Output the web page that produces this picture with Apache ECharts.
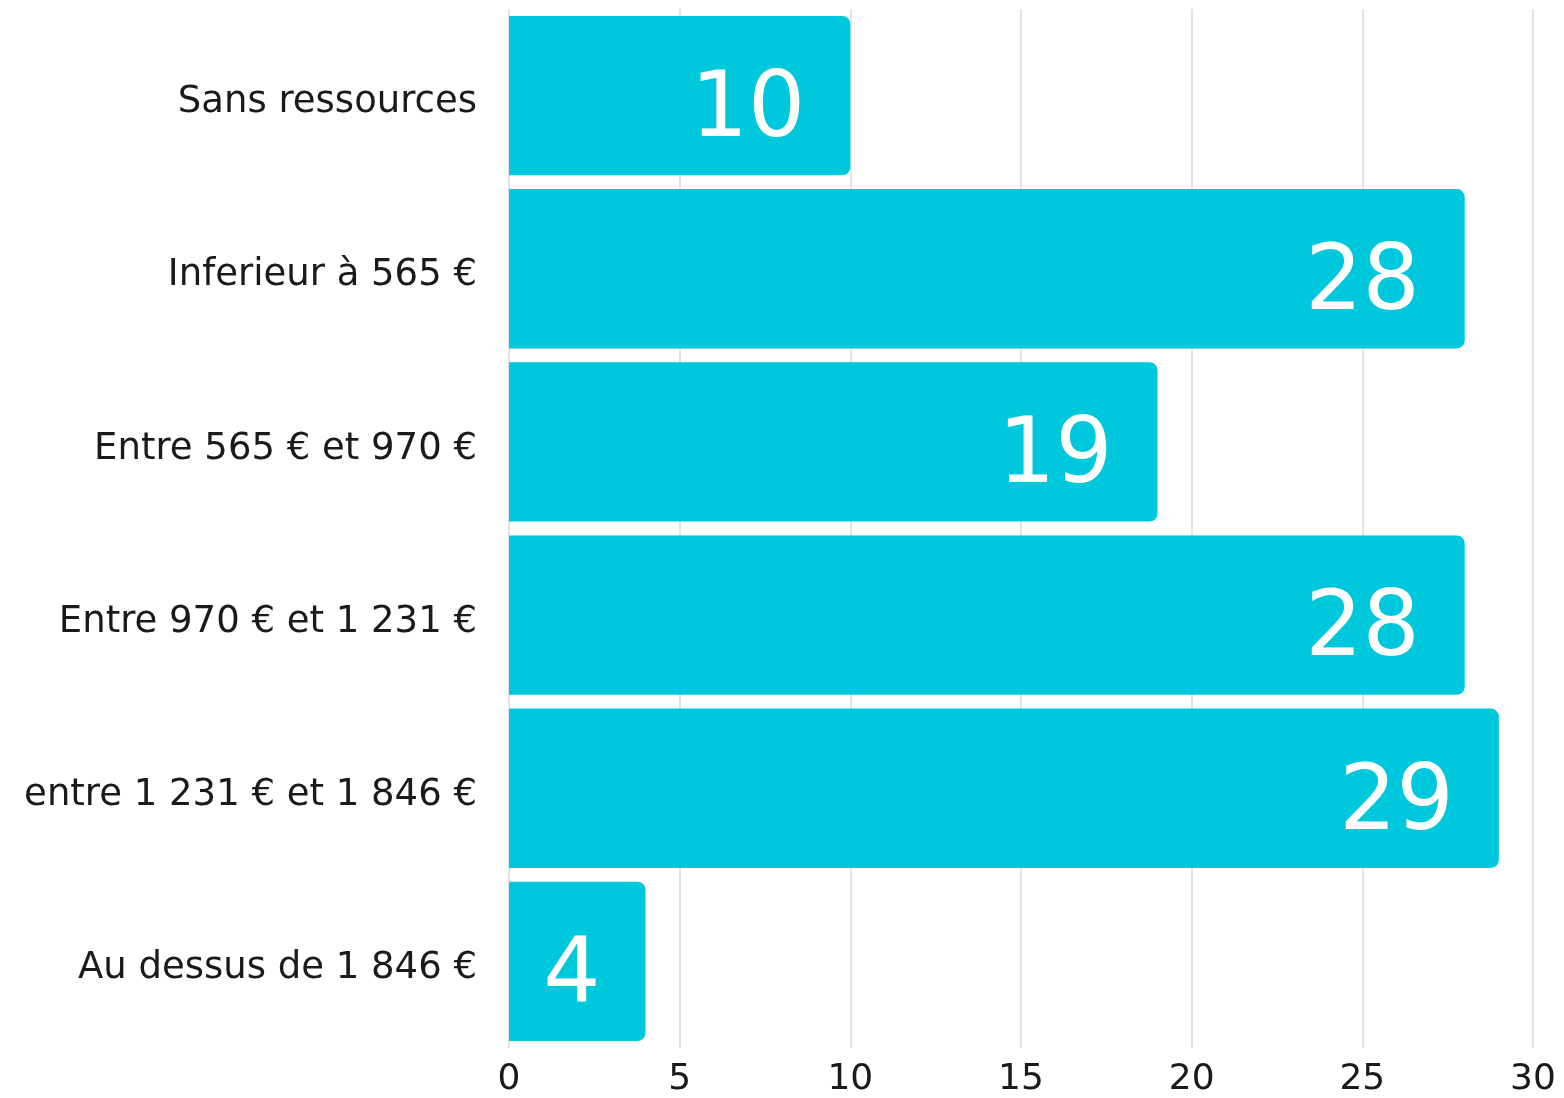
<!DOCTYPE html>
<html><head><meta charset="utf-8">
<script src="https://cdn.jsdelivr.net/npm/echarts@6/dist/echarts.min.js"></script>
<style>html,body{margin:0;padding:0;background:#fff}#c{width:1564px;height:1098px}</style>
</head><body><div id="c"></div>
<script>
const categories = ["Sans ressources","Inferieur à 565 €","Entre 565 € et 970 €","Entre 970 € et 1 231 €","entre 1 231 € et 1 846 €","Au dessus de 1 846 €"];
const values = [10, 28, 19, 28, 29, 4];
const xTicks = [0, 5, 10, 15, 20, 25, 30];

const FONT = 'DejaVu Sans';
const chart = echarts.init(document.getElementById('c'));
chart.setOption({
  animation: false,
  grid: {left: 509, right: 31, top: 9, bottom: 50, containLabel: false},
  xAxis: {
    type: 'value', min: xTicks[0], max: xTicks[xTicks.length-1], interval: 5,
    axisLine: {show: false}, axisTick: {show: false},
    splitLine: {lineStyle: {color: '#e3e3e3', width: 2}},
    axisLabel: {color: '#1a1a1a', fontSize: 36, fontFamily: FONT, margin: 14}
  },
  yAxis: {
    type: 'category', inverse: true, data: categories,
    axisLine: {show: false}, axisTick: {show: false},
    axisLabel: {
      margin: 32,
      formatter: v => '{a|' + v + '}',
      rich: {a: {color: '#1a1a1a', fontSize: 37, fontFamily: FONT, padding: [14, 0, 0, 0]}}
    }
  },
  series: [{
    type: 'bar', data: values, barCategoryGap: '8%',
    itemStyle: {color: '#00c8dc', borderRadius: [0, 8, 8, 0]},
    label: {show: true, position: 'insideRight', distance: 45, offset: [0, 17], color: '#fff', fontSize: 90, fontFamily: FONT}
  }]
});
</script></body></html>
